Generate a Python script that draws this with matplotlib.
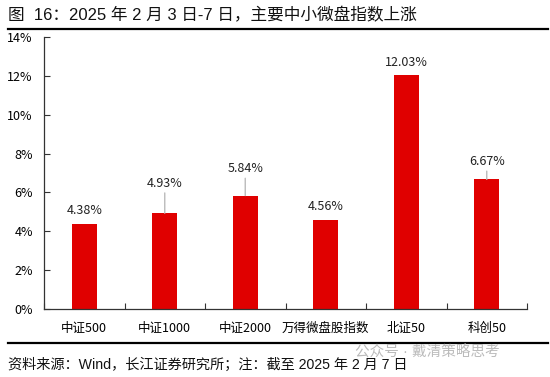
import matplotlib
matplotlib.use("Agg")
import matplotlib.pyplot as plt
from matplotlib.ticker import FuncFormatter, MultipleLocator
from matplotlib.lines import Line2D

categories = ["中证500", "中证1000", "中证2000", "万得微盘股指数", "北证50", "科创50"]
values = [4.38, 4.93, 5.84, 4.56, 12.03, 6.67]
label_offsets_px = [13, 30, 27, 14, 13, 18]

plt.rcParams['font.family'] = ['Liberation Sans', 'Noto Sans CJK SC', 'DejaVu Sans']

fig = plt.figure(figsize=(5.5, 3.77), dpi=100)
W, H = 550, 377
ax = fig.add_axes([44 / W, 1 - 309 / H, (527 - 44) / W, (309 - 37) / H])

x = list(range(len(categories)))
ax.bar(x, values, width=0.31, color="#E00000", zorder=2)
ax.set_xlim(-0.5, len(categories) - 0.5)
ax.set_ylim(0, 14)
ax.yaxis.set_major_locator(MultipleLocator(2))
ax.yaxis.set_major_formatter(FuncFormatter(lambda v, p: f"{v:.0f}%"))

ax.set_xticks([i + 0.5 for i in range(-1, len(categories))])
ax.set_xticklabels([])
ax.set_xticks(x, minor=True)
ax.set_xticklabels(categories, minor=True, fontsize=9, family=['Noto Sans CJK SC', 'DejaVu Sans'])
ax.tick_params(axis='x', which='major', direction='in', length=4, width=0.8, color='#333333')
ax.tick_params(axis='x', which='minor', length=0, pad=9)
ax.tick_params(axis='y', direction='in', length=4, width=0.8, color='#333333', labelsize=9, pad=8)
for lab in ax.get_yticklabels():
    lab.set_family(['Noto Sans CJK SC', 'DejaVu Sans'])

for s in ['top', 'right']:
    ax.spines[s].set_visible(False)
for s in ['left', 'bottom']:
    ax.spines[s].set_color('#333333')
    ax.spines[s].set_linewidth(0.9)

for xi, v, off in zip(x, values, label_offsets_px):
    off_pt = off * 72 / 100
    ax.annotate(f"{v:.2f}%", xy=(xi, v), xytext=(0, off_pt), textcoords='offset points',
                ha='center', va='center', fontsize=9,
                family=['Noto Sans CJK SC', 'DejaVu Sans'], color='#222222')
    if off > 15:
        ax.annotate("", xy=(xi, v), xytext=(0, off_pt - 7), textcoords='offset points',
                    arrowprops=dict(arrowstyle='-', color='#BBBBBB', lw=1.0, shrinkA=0, shrinkB=0))

# Title and decoration
fig.text(8 / W, 1 - 15 / H, "图  16：2025 年 2 月 3 日-7 日，主要中小微盘指数上涨",
         fontsize=12, va='center', ha='left', color='#111111')
fig.add_artist(Line2D([8 / W, 548 / W], [1 - 29 / H, 1 - 29 / H], color='black', lw=1.6))
fig.add_artist(Line2D([8 / W, 548 / W], [1 - 343 / H, 1 - 343 / H], color='black', lw=1.6))
fig.text(8 / W, 1 - 365 / H, "资料来源：Wind，长江证券研究所；注：截至 2025 年 2 月 7 日",
         fontsize=10.2, va='center', ha='left', color='#111111')
fig.text(355 / W, 1 - 352 / H, "公众号 · 戴清策略思考",
         fontsize=10.5, va='center', ha='left', color='#BBBBBB')

fig.savefig("out.png", dpi=100)
